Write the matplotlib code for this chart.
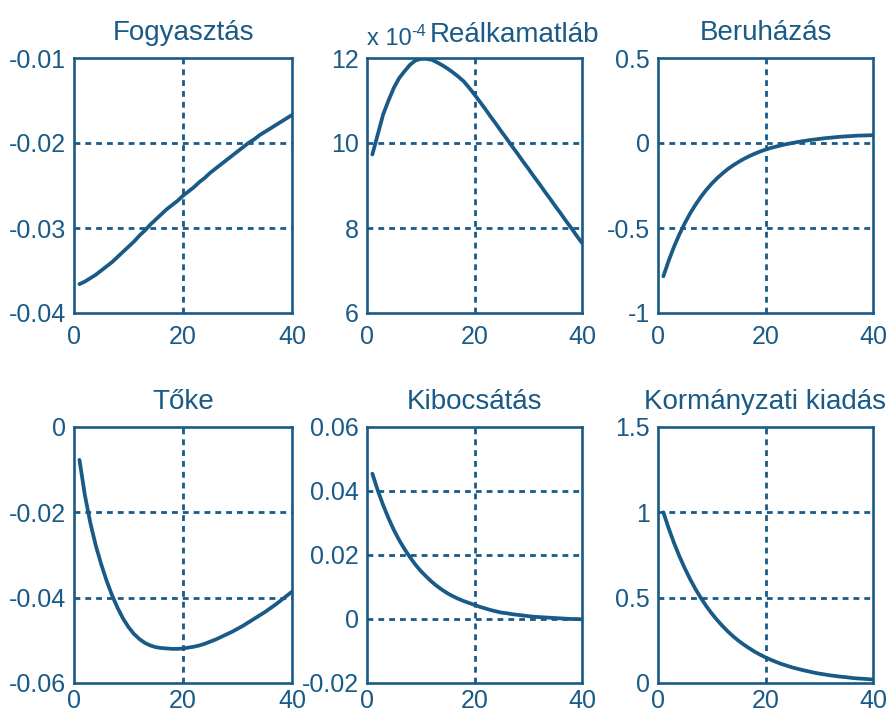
import matplotlib
matplotlib.use("Agg")
import matplotlib.pyplot as plt
import numpy as np

periods = list(range(1, 41))

fogyasztas = [-0.0366, -0.0363, -0.0359, -0.0355, -0.0350, -0.0345, -0.0340, -0.0334, -0.0328, -0.0322,
              -0.0316, -0.0309, -0.0303, -0.0296, -0.0290, -0.0284, -0.0278, -0.0273, -0.0268, -0.0262,
              -0.0257, -0.0252, -0.0246, -0.0241, -0.0235, -0.0230, -0.0225, -0.0220, -0.0215, -0.0210,
              -0.0205, -0.0200, -0.0196, -0.0191, -0.0187, -0.0183, -0.0179, -0.0175, -0.0171, -0.0167]

# in units of 1e-4
realkamat = [9.73, 10.20, 10.67, 11.00, 11.30, 11.53, 11.69, 11.84, 11.94, 11.98,
             11.98, 11.96, 11.90, 11.83, 11.75, 11.66, 11.56, 11.45, 11.30, 11.14,
             10.97, 10.80, 10.62, 10.45, 10.27, 10.10, 9.92, 9.75, 9.57, 9.40,
             9.22, 9.05, 8.87, 8.70, 8.52, 8.35, 8.17, 8.00, 7.82, 7.65]

beruhazas = [-0.784, -0.691, -0.609, -0.536, -0.471, -0.413, -0.362, -0.316, -0.275, -0.239,
             -0.207, -0.179, -0.153, -0.131, -0.111, -0.093, -0.077, -0.063, -0.050, -0.039,
             -0.029, -0.021, -0.013, -0.006, 0.000, 0.006, 0.011, 0.016, 0.020, 0.024,
             0.028, 0.031, 0.034, 0.037, 0.039, 0.041, 0.043, 0.044, 0.045, 0.046]

toke = [-0.0077, -0.0160, -0.0225, -0.0278, -0.0322, -0.0361, -0.0395, -0.0424, -0.0449, -0.0469,
        -0.0485, -0.0497, -0.0506, -0.0512, -0.0516, -0.0518, -0.0519, -0.0520, -0.0520, -0.0519,
        -0.0517, -0.0515, -0.0512, -0.0508, -0.0503, -0.0498, -0.0492, -0.0486, -0.0480, -0.0473,
        -0.0466, -0.0458, -0.0450, -0.0442, -0.0434, -0.0425, -0.0416, -0.0406, -0.0396, -0.0386]

kibocsatas = [0.0454, 0.0402, 0.0356, 0.0315, 0.0278, 0.0246, 0.0218, 0.0193, 0.0170, 0.0150,
              0.0133, 0.0117, 0.0103, 0.0091, 0.0080, 0.0071, 0.0063, 0.0056, 0.0050, 0.0044,
              0.0038, 0.0033, 0.0028, 0.0024, 0.0020, 0.0018, 0.0015, 0.0013, 0.0011, 0.0009,
              0.0007, 0.0006, 0.0005, 0.0004, 0.0003, 0.0002, 0.0001, 0.0000, 0.0000, -0.0001]

kormanyzati = [1.000, 0.905, 0.819, 0.741, 0.671, 0.607, 0.549, 0.497, 0.450, 0.407,
               0.369, 0.334, 0.302, 0.273, 0.247, 0.224, 0.203, 0.183, 0.166, 0.150,
               0.136, 0.123, 0.111, 0.101, 0.091, 0.083, 0.075, 0.068, 0.061, 0.055,
               0.050, 0.045, 0.041, 0.037, 0.034, 0.030, 0.027, 0.025, 0.023, 0.020]

titles = ["Fogyasztás", "Reálkamatláb", "Beruházás", "Tőke", "Kibocsátás", "Kormányzati kiadás"]
series = [fogyasztas, realkamat, beruhazas, toke, kibocsatas, kormanyzati]
ylims = [(-0.04, -0.01), (6, 12), (-1, 0.5), (-0.06, 0), (-0.02, 0.06), (0, 1.5)]
yticks = [[-0.04, -0.03, -0.02, -0.01], [6, 8, 10, 12], [-1, -0.5, 0, 0.5],
          [-0.06, -0.04, -0.02, 0], [-0.02, 0, 0.02, 0.04, 0.06], [0, 0.5, 1, 1.5]]
ytick_labels = [["-0.04", "-0.03", "-0.02", "-0.01"], ["6", "8", "10", "12"],
                ["-1", "-0.5", "0", "0.5"], ["-0.06", "-0.04", "-0.02", "0"],
                ["-0.02", "0", "0.02", "0.04", "0.06"], ["0", "0.5", "1", "1.5"]]
xticks = [0, 20, 40]

color = "#195a87"
plt.rcParams['font.family'] = ['Liberation Sans', 'DejaVu Sans']

fig = plt.figure(figsize=(8.89, 7.11), dpi=100)
W, H = 889, 711
lefts = [74, 367, 658]
widths = [218, 215, 215]
tops = [58, 427]
heights = [255, 256]
grid_ls = (0, (2.1, 1.8))

for i in range(6):
    r, c = divmod(i, 3)
    ax = fig.add_axes([lefts[c] / W, 1 - (tops[r] + heights[r]) / H, widths[c] / W, heights[r] / H])
    ax.plot(periods, series[i], color=color, lw=2.7, solid_capstyle='round')
    ax.set_xlim(0, 40)
    ax.set_ylim(*ylims[i])
    ax.set_xticks(xticks)
    ax.set_xticklabels([str(v) for v in xticks])
    ax.set_yticks(yticks[i])
    ax.set_yticklabels(ytick_labels[i])
    ax.tick_params(length=0, labelsize=18, labelcolor=color, pad=6)
    ax.tick_params(axis='x', pad=(9 if r == 0 else 4))
    for sp in ax.spines.values():
        sp.set_color(color)
        sp.set_linewidth(1.9)
    for xv in xticks[1:-1]:
        ax.axvline(xv, color=color, lw=2.0, ls=grid_ls, zorder=0)
    for yv in yticks[i][1:-1]:
        ax.axhline(yv, color=color, lw=2.0, ls=grid_ls, zorder=0)
    if i == 1:
        ax.text(0.0, 1.051, "x 10", transform=ax.transAxes, fontsize=17,
                color=color, ha='left', va='baseline')
        ax.text(0.205, 1.085, "-4", transform=ax.transAxes, fontsize=12,
                color=color, ha='left', va='baseline')
        ax.text(0.29, 1.063, titles[i], transform=ax.transAxes, fontsize=20,
                color=color, ha='left', va='baseline')
    else:
        ax.text(0.5, 1.07, titles[i], transform=ax.transAxes, fontsize=20,
                color=color, ha='center', va='baseline')

fig.savefig("out.png", dpi=100)
